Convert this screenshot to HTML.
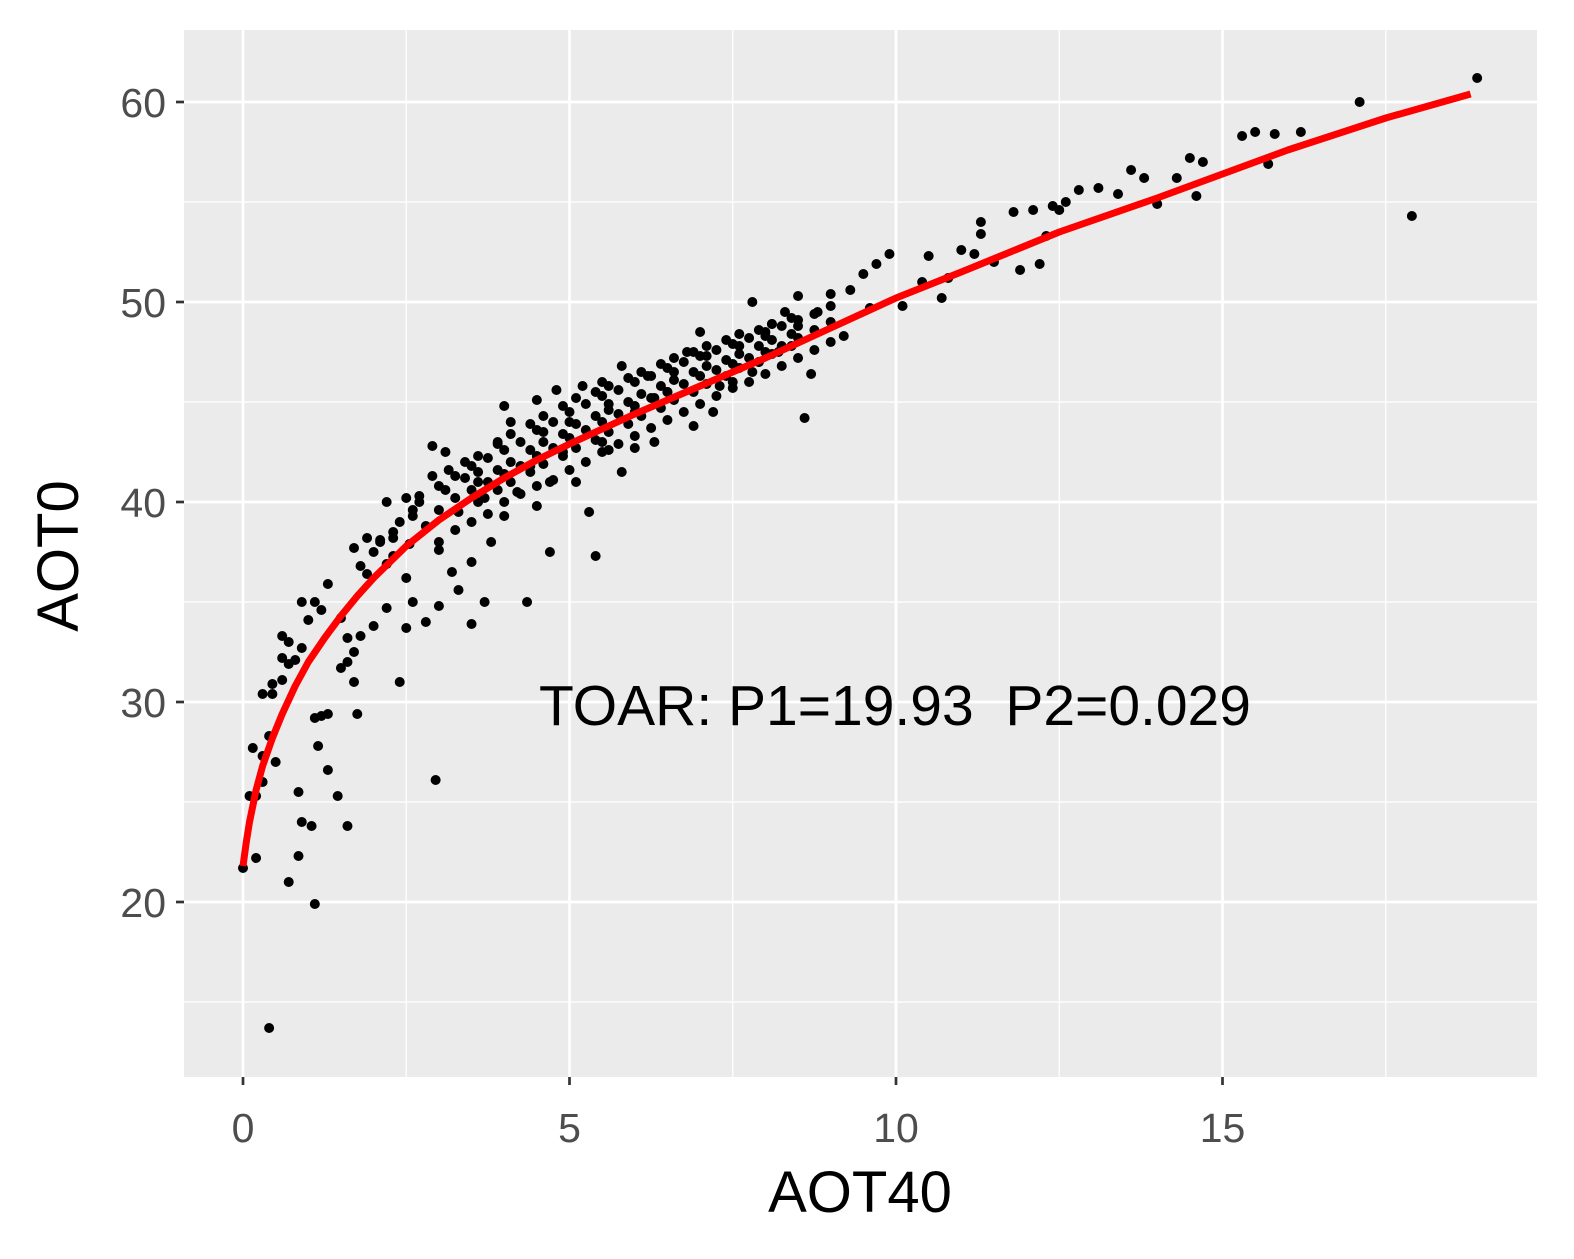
<!DOCTYPE html>
<html><head><meta charset="utf-8">
<style>
html,body{margin:0;padding:0;background:#fff;}
svg{display:block;font-family:"Liberation Sans",Arial,sans-serif;}
</style></head>
<body>
<svg id="chart" width="1574" height="1259" viewBox="0 0 1574 1259" xmlns="http://www.w3.org/2000/svg">
<rect x="0" y="0" width="1574" height="1259" fill="#fff"/>
<rect x="184" y="30" width="1353" height="1047" fill="#EBEBEB"/>
<g id="grid"></g>
<g id="points"></g>
<g id="fit"></g>
<g id="axes"></g>
<text x="895" y="725" font-size="57" text-anchor="middle" fill="#000" style="white-space:pre">TOAR: P1=19.93  P2=0.029</text>
<text x="860" y="1212" font-size="58" text-anchor="middle" fill="#000">AOT40</text>
<text transform="translate(78,556) rotate(-90)" font-size="58" text-anchor="middle" fill="#000">AOT0</text>
</svg>
<script>
const xTicks=[0,5,10,15];
const yTicks=[20,30,40,50,60];
const xMinor=[2.5,7.5,12.5,17.5];
const yMinor=[15,25,35,45,55];
const curveX=[0,0.05,0.1,0.2,0.3,0.45,0.6,0.8,1,1.25,1.5,1.75,2,2.5,3,3.5,4,4.5,5,6,7,8,9,10,11,12.5,14,15,16,17.5,18.8];
const curveY=[21.8,23.0,24.0,25.6,26.8,28.2,29.4,30.8,32.0,33.2,34.3,35.3,36.2,37.8,39.1,40.2,41.2,42.1,42.9,44.4,45.8,47.2,48.7,50.2,51.5,53.5,55.2,56.4,57.6,59.2,60.4];
const ptsX=[0,0.2,0.4,0.7,1.1,0.85,0.9,1.05,0.85,1.6,1.45,1.3,2.95,1.15,0.3,0.15,0.4,0.5,0.2,0.3,0.1,0.3,0.45,0.45,0.6,0.7,0.6,0.8,0.9,1.2,1.1,1.3,1.75,1.7,1.5,1.6,1.7,1.5,1.0,1.1,0.9,0.6,0.7,1.3,1.2,1.8,2.0,2.4,2.2,2.5,2.8,2.6,3.0,3.5,3.3,3.7,4.35,5.4,4.7,5.3,2.9,3.1,3.4,3.6,2.9,2.7,2.5,2.2,2.1,1.9,1.7,2.3,2.6,3.0,3.2,3.5,3.8,4.0,4.2,4.5,4.4,3.9,4.1,4.0,4.5,4.8,5.0,5.2,5.5,5.8,5.5,5.6,5.8,6.0,6.3,6.0,6.3,6.6,6.8,6.5,7.0,7.1,7.2,6.9,7.5,7.6,7.8,7.8,8.0,8.2,8.5,8.5,8.7,8.6,8.8,9.0,9.2,9.5,9.7,9.9,9.6,10.1,10.4,10.5,10.7,11.0,11.3,11.3,11.5,11.8,11.9,12.2,12.3,12.4,12.6,12.8,13.1,13.4,13.6,13.8,14.0,14.3,14.5,14.7,14.6,15.3,15.5,15.8,16.2,15.7,17.1,17.9,18.9,12.1,12.5,11.2,10.8,9.3,2.3,2.5,1.9,1.6,3.7,3.3,4.6,4.9,5.1,4.7,5.6,6.2,7.3,7.9,8.3,8.1,
3.0,3.0,3.0,3.25,3.25,3.25,3.5,3.5,3.5,3.75,3.75,3.75,4.0,4.0,4.0,4.25,4.25,4.25,4.5,4.5,4.5,4.75,4.75,4.75,5.0,5.0,5.0,5.25,5.25,5.25,5.5,5.5,5.5,5.75,5.75,5.75,6.0,6.0,6.0,6.25,6.25,6.25,6.5,6.5,6.5,6.75,6.75,6.75,7.0,7.0,7.0,7.25,7.25,7.25,7.5,7.5,7.5,7.75,7.75,7.75,8.0,8.0,8.0,8.25,8.25,8.25,8.5,8.5,8.5,8.75,8.75,8.75,9.0,9.0,9.0,
3.6,3.6,3.6,3.9,3.9,3.9,4.1,4.1,4.1,4.4,4.4,4.4,4.6,4.6,4.6,4.9,4.9,4.9,5.1,5.1,5.1,5.4,5.4,5.4,5.6,5.6,5.6,5.9,5.9,5.9,6.1,6.1,6.1,6.4,6.4,6.4,6.6,6.6,6.6,6.9,6.9,6.9,7.1,7.1,7.1,7.4,7.4,7.4,7.6,7.6,7.6,7.9,7.9,7.9,8.1,8.1,8.1,8.4,8.4,8.4,
2.0,2.1,2.3,2.4,2.6,2.7,2.8,1.8,2.2,2.55,3.1,3.15,3.4];
const ptsY=[21.7,22.2,13.7,21,19.9,22.3,24,23.8,25.5,23.8,25.3,26.6,26.1,27.8,27.3,27.7,28.3,27,25.3,26,25.3,30.4,30.4,30.9,31.1,31.9,32.2,32.1,32.7,29.3,29.2,29.4,29.4,31,31.7,32,32.5,34.2,34.1,35,35,33.3,33,35.9,34.6,33.3,33.8,31,34.7,33.7,34,35,34.8,33.9,35.6,35,35,37.3,37.5,39.5,42.8,42.5,42,41.5,41.3,40.3,40.2,40,38.1,38.2,37.7,38.5,39.3,37.6,36.5,37,38,39.3,40.5,39.8,41.8,43,44,44.8,45.1,45.6,44,45.8,46,46.8,43,42.6,41.5,42.7,43,44.5,45.2,46.5,47.5,45.5,48.5,47.3,44.5,43.8,46,47.8,46.5,50,48.3,47.5,48.8,50.3,46.4,44.2,49.5,50.4,48.3,51.4,51.9,52.4,49.7,49.8,51,52.3,50.2,52.6,53.4,54,52,54.5,51.6,51.9,53.3,54.8,55,55.6,55.7,55.4,56.6,56.2,54.9,56.2,57.2,57,55.3,58.3,58.5,58.4,58.5,56.9,60,54.3,61.2,54.6,54.6,52.4,51.2,50.6,37.3,36.2,36.4,33.2,40.2,39.5,43.5,42.5,41,41,44.9,46.3,45.8,47,49.5,48.9,
38.0,39.6,40.8,38.6,40.2,41.3,39.0,40.6,41.8,39.4,41.0,42.2,40.0,41.4,42.6,40.4,41.8,43.0,40.8,42.3,43.6,41.1,42.7,44.0,41.6,43.2,44.5,42.0,43.6,44.9,42.5,44.0,45.3,42.9,44.4,45.6,43.3,44.8,46.0,43.7,45.2,46.3,44.1,45.5,46.7,44.5,45.9,47.0,44.9,46.3,47.3,45.3,46.6,47.6,45.7,46.9,47.9,46.0,47.2,48.2,46.4,47.5,48.5,46.8,47.8,48.8,47.2,48.2,49.1,47.6,48.6,49.4,48.0,49.0,49.8,
40.0,41.0,42.3,40.6,41.6,42.9,41.0,42.0,43.4,41.5,42.6,43.9,41.9,43.0,44.3,42.3,43.4,44.8,42.7,43.9,45.2,43.1,44.3,45.5,43.5,44.6,45.8,43.9,45.0,46.2,44.3,45.4,46.5,44.7,45.8,46.9,45.1,46.1,47.2,45.5,46.5,47.5,45.9,46.8,47.8,46.3,47.1,48.1,46.7,47.4,48.4,47.0,47.8,48.6,47.4,48.1,48.9,47.8,48.4,49.2,
37.5,38.0,38.2,39.0,39.6,40.0,38.8,36.8,36.9,37.9,40.6,41.6,41.2];

const NS='http://www.w3.org/2000/svg';
function sx(v){return 243+v*65.3;}
function sy(v){return 902-(v-20)*20;}
function mk(tag,attrs,parent){const e=document.createElementNS(NS,tag);for(const k in attrs)e.setAttribute(k,attrs[k]);parent.appendChild(e);return e;}
const grid=document.getElementById('grid'),pts=document.getElementById('points'),fit=document.getElementById('fit'),axes=document.getElementById('axes');
xMinor.forEach(v=>{const l=mk('line',{x1:sx(v),x2:sx(v),y1:30,y2:1077,stroke:'#fff','stroke-width':1.3},grid);

});
yMinor.forEach(v=>{const l=mk('line',{x1:184,x2:1537,y1:sy(v),y2:sy(v),stroke:'#fff','stroke-width':1.3},grid);

});
xTicks.forEach(v=>{const l=mk('line',{x1:sx(v),x2:sx(v),y1:30,y2:1077,stroke:'#fff','stroke-width':2.7},grid);


const t=mk('line',{x1:sx(v),x2:sx(v),y1:1077,y2:1085,stroke:'#333','stroke-width':2.7},axes);


const tx=mk('text',{x:sx(v),y:1142,'font-size':41,'text-anchor':'middle',fill:'#4D4D4D'},axes);tx.textContent=v;

});
yTicks.forEach(v=>{const l=mk('line',{x1:184,x2:1537,y1:sy(v),y2:sy(v),stroke:'#fff','stroke-width':2.7},grid);


const t=mk('line',{x1:176,x2:184,y1:sy(v),y2:sy(v),stroke:'#333','stroke-width':2.7},axes);


const tx=mk('text',{x:166,y:sy(v)+15,'font-size':41,'text-anchor':'end',fill:'#4D4D4D'},axes);tx.textContent=v;

});
ptsX.forEach((x,i)=>{const c=mk('circle',{cx:sx(x),cy:sy(ptsY[i]),r:5,fill:'#000'},pts);

});
const d=curveX.map((x,i)=>(i?'L':'M')+sx(x).toFixed(1)+','+sy(curveY[i]).toFixed(1)).join(' ');
const p=mk('path',{d:d,fill:'none',stroke:'#FF0000','stroke-width':7,'stroke-linejoin':'round'},fit);


</script>
</body></html>
